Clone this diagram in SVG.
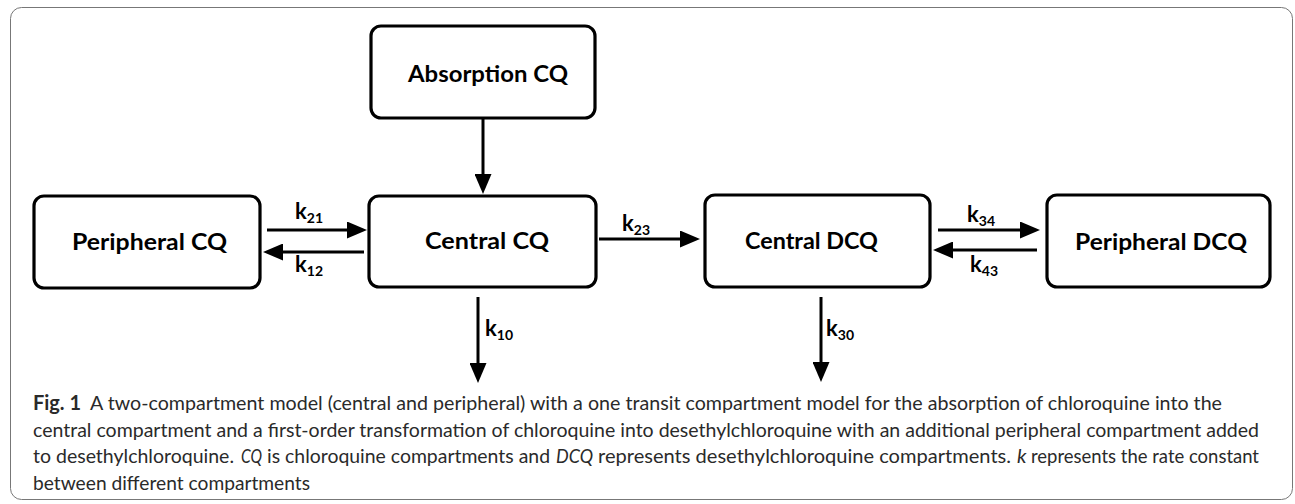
<svg xmlns="http://www.w3.org/2000/svg" width="1295" height="504" viewBox="0 0 1295 504">
<style>
.box{fill:#fff;stroke:#000;stroke-width:3.2}
.lbl{font-family:Lato,"Open Sans","Liberation Sans",sans-serif;font-weight:bold;font-size:22px;fill:#000}
.k{font-family:Lato,"Open Sans","Liberation Sans",sans-serif;font-weight:bold;font-size:22px;fill:#000}
.sub{font-size:14px}
.conn line{stroke:#000;stroke-width:3;marker-end:url(#ah)}
.cap{font-family:Lato,"Noto Sans","Liberation Sans",sans-serif;font-size:20px;fill:#2a2a2a}
.it{font-style:italic}
</style>
<defs>
<marker id="ah" viewBox="0 0 20 17" refX="1" refY="8.5" markerWidth="20" markerHeight="17" markerUnits="userSpaceOnUse" orient="auto">
<path d="M0,0 L20,8.5 L0,17 z" fill="#000"/>
</marker>
</defs>
<rect x="10.5" y="7.5" width="1282" height="492" rx="11" fill="#fff" stroke="#777" stroke-width="1"/>
<g id="absorption-cq">
<rect class="box" x="371" y="26" width="224" height="92" rx="10"/>
<text class="lbl" x="408" y="82" textLength="160" lengthAdjust="spacingAndGlyphs">Absorption CQ</text>
</g>
<g id="peripheral-cq">
<rect class="box" x="34" y="196" width="226" height="92" rx="10"/>
<text class="lbl" x="72" y="250" textLength="155" lengthAdjust="spacingAndGlyphs">Peripheral CQ</text>
</g>
<g id="central-cq">
<rect class="box" x="369" y="196" width="227" height="91" rx="10"/>
<text class="lbl" x="425" y="249" textLength="124" lengthAdjust="spacingAndGlyphs">Central CQ</text>
</g>
<g id="central-dcq">
<rect class="box" x="705" y="195" width="225" height="92" rx="10"/>
<text class="lbl" x="745" y="249" textLength="133" lengthAdjust="spacingAndGlyphs">Central DCQ</text>
</g>
<g id="peripheral-dcq">
<rect class="box" x="1047" y="195" width="223" height="92" rx="10"/>
<text class="lbl" x="1075" y="250" textLength="172" lengthAdjust="spacingAndGlyphs">Peripheral DCQ</text>
</g>
<g id="connectors" class="conn">
<line x1="483" y1="119" x2="483" y2="175"/>
<line x1="267" y1="230" x2="348" y2="230"/>
<line x1="364" y1="252" x2="282" y2="252"/>
<line x1="599" y1="239" x2="681" y2="239"/>
<line x1="938" y1="230" x2="1021" y2="230"/>
<line x1="1037" y1="250" x2="952" y2="250"/>
<line x1="478" y1="297" x2="478" y2="364"/>
<line x1="821" y1="297" x2="821" y2="363"/>
</g>
<g id="rate-labels">
<text class="k" x="295" y="219">k<tspan class="sub" dy="4">21</tspan></text>
<text class="k" x="295" y="272">k<tspan class="sub" dy="4">12</tspan></text>
<text class="k" x="622" y="231">k<tspan class="sub" dy="4">23</tspan></text>
<text class="k" x="967" y="222">k<tspan class="sub" dy="4">34</tspan></text>
<text class="k" x="970" y="272">k<tspan class="sub" dy="4">43</tspan></text>
<text class="k" x="485" y="336">k<tspan class="sub" dy="4">10</tspan></text>
<text class="k" x="826" y="336">k<tspan class="sub" dy="4">30</tspan></text>
</g>
<g id="caption" class="cap">
<text x="33" y="410" font-weight="bold" textLength="48" lengthAdjust="spacingAndGlyphs">Fig. 1</text>
<text x="90" y="410" textLength="1132" lengthAdjust="spacingAndGlyphs">A two-compartment model (central and peripheral) with a one transit compartment model for the absorption of chloroquine into the</text>
<text x="33" y="437" textLength="1226" lengthAdjust="spacingAndGlyphs">central compartment and a first-order transformation of chloroquine into desethylchloroquine with an additional peripheral compartment added</text>
<text x="33" y="463" textLength="201" lengthAdjust="spacingAndGlyphs">to desethylchloroquine.</text>
<text class="it" x="241" y="463" textLength="21" lengthAdjust="spacingAndGlyphs">CQ</text>
<text x="267" y="463" textLength="283" lengthAdjust="spacingAndGlyphs">is chloroquine compartments and</text>
<text class="it" x="556" y="463" textLength="37" lengthAdjust="spacingAndGlyphs">DCQ</text>
<text x="598" y="463" textLength="413" lengthAdjust="spacingAndGlyphs">represents desethylchloroquine compartments.</text>
<text class="it" x="1017" y="463">k</text>
<text x="1031" y="463" textLength="228" lengthAdjust="spacingAndGlyphs">represents the rate constant</text>
<text x="33" y="490" textLength="277" lengthAdjust="spacingAndGlyphs">between different compartments</text>
</g>
</svg>
